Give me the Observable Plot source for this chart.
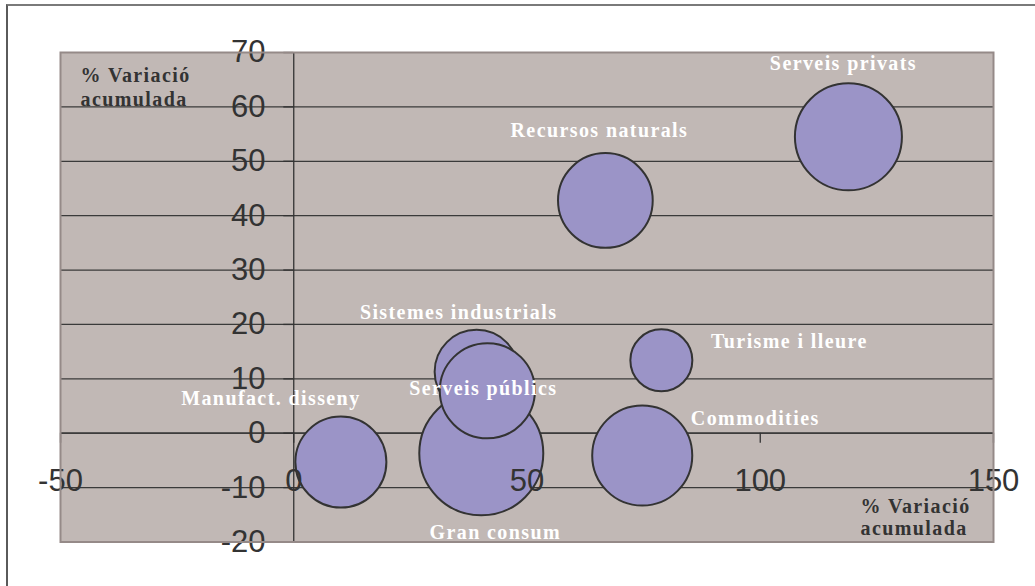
<!DOCTYPE html>
<html>
<head>
<meta charset="utf-8">
<script src="https://cdn.jsdelivr.net/npm/d3@7"></script>
<script src="https://cdn.jsdelivr.net/npm/@observablehq/plot@0.6"></script>
<style>
  html, body { margin: 0; padding: 0; background: #ffffff; }
  #wrap { position: relative; width: 1035px; height: 586px; overflow: hidden; }
  #box { position: absolute; left: 6px; top: 4px; width: 1100px; height: 700px;
         border-left: 2px solid #5a5a5a; border-top: 2px solid #7a7a7a; pointer-events: none; }
</style>
</head>
<body>
<div id="wrap"><div id="chart"></div><div id="box"></div></div>
<script>
// ---- Data ----
const sectors = ["Gran consum", "Sistemes industrials", "Serveis públics", "Manufact. disseny",
                 "Commodities", "Turisme i lleure", "Recursos naturals", "Serveis privats"];
const xVariation = [40.2, 39.2, 41.5, 10.1, 74.7, 78.8, 66.8, 118.9];   // % variació acumulada (x)
const yVariation = [-3.7, 11.3, 7.8, -5.3, -4.1, 13.4, 42.8, 54.5];     // % variació acumulada (y)
const bubbleSize = [38.4, 17.6, 22.6, 20.7, 25.0, 9.6, 22.4, 28.6];     // bubble size (relative)
const xTicks = [-50, 0, 50, 100, 150];
const yTicks = [-20, -10, 0, 10, 20, 30, 40, 50, 60, 70];
const axisTitle = "% Variació\nacumulada";

const rows = sectors.map((s, i) => ({name: s, x: xVariation[i], y: yVariation[i], size: bubbleSize[i]}));

// ---- Styling: label offsets (pixels, relative to bubble centre) ----
const labelOffset = {
  "Serveis privats": [-5, -73],
  "Recursos naturals": [-6, -70],
  "Turisme i lleure": [128, -19],
  "Sistemes industrials": [-18, -59],
  "Serveis públics": [-4, -2],
  "Gran consum": [14, 79],
  "Commodities": [113, -37],
  "Manufact. disseny": [-70, -63]
};

const W = 1035, H = 586;
const mTop = 52, mBottom = 44.5, mLeft = 60, mRight = 42;
const yDomain = [-20, 70];
const y0px = mTop + (yDomain[1] - 0) / (yDomain[1] - yDomain[0]) * (H - mTop - mBottom);
const bottomPx = H - mBottom;

const labelFont = {fontFamily: "'Liberation Serif', 'Times New Roman', serif", fontWeight: "bold", fontSize: 20};

const chart = Plot.plot({
  width: W, height: H,
  marginTop: mTop, marginBottom: mBottom, marginLeft: mLeft, marginRight: mRight,
  style: {background: "transparent", fontFamily: "'Liberation Sans', Arial, sans-serif"},
  x: {domain: [-50, 150], axis: null},
  y: {domain: yDomain, axis: null},
  r: {type: "sqrt", domain: [0, d3.max(bubbleSize)], range: [0, 62]},
  marks: [
    Plot.frame({fill: "#C1B8B5", stroke: null}),
    Plot.gridY(yTicks, {stroke: "#3a3a3a", strokeOpacity: 1, strokeWidth: 1.2}),
    Plot.ruleX([0], {stroke: "#333", strokeWidth: 1.3}),
    Plot.ruleY([0], {stroke: "#333", strokeWidth: 1.3}),
    // y-axis tick marks on the y axis line
    Plot.axisY(yTicks, {anchor: "left", label: null, tickSize: 10, dx: 233.3, tickFormat: () => "", stroke: "#333", strokeWidth: 1.3}),
    // x-axis tick marks on the x axis line
    Plot.axisX(xTicks, {anchor: "bottom", label: null, tickSize: 10, dy: y0px - bottomPx, tickFormat: () => "", stroke: "#333", strokeWidth: 1.3}),
    Plot.dot(rows, {x: "x", y: "y", r: "size", sort: null, fill: "#9B94C7", stroke: "#333", strokeWidth: 2}),
    ...rows.map(d => Plot.text([d], {
      x: "x", y: "y", text: "name",
      dx: labelOffset[d.name][0], dy: labelOffset[d.name][1],
      fill: "#ffffff", ...labelFont
    })),
    // tick labels
    Plot.text(yTicks, {y: d => d, text: d => String(d), frameAnchor: "left", textAnchor: "end", dx: 205,
      fontSize: 31, fill: "#333"}),
    Plot.text(xTicks, {x: d => d, text: d => String(d), frameAnchor: "bottom", lineAnchor: "middle", dy: -61,
      fontSize: 31, fill: "#333"}),
    // axis titles
    Plot.text([axisTitle], {frameAnchor: "top-left", textAnchor: "start", lineAnchor: "middle",
      dx: 20, dy: 34, lineHeight: 1.2, fill: "#333", ...labelFont}),
    Plot.text([axisTitle], {frameAnchor: "bottom-right", textAnchor: "start", lineAnchor: "middle",
      dx: -133, dy: -25.5, lineHeight: 1.1, fill: "#333", ...labelFont}),
    Plot.frame({stroke: "#958a88", strokeWidth: 2})
  ]
});
document.getElementById("chart").appendChild(chart);
document.querySelectorAll("#chart g[font-weight='bold'] text, #chart text[font-weight='bold']").forEach(t => {
  t.style.letterSpacing = "1.4px";
});
</script>
</body>
</html>
